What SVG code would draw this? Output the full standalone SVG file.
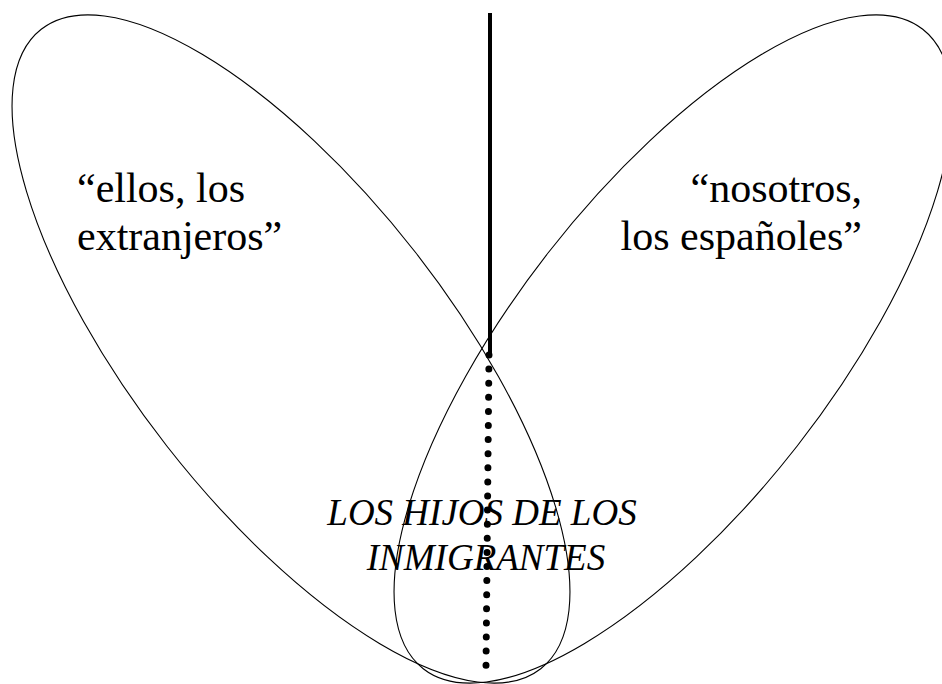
<svg xmlns="http://www.w3.org/2000/svg" width="942" height="684" viewBox="0 0 942 684">
<style>
.el{fill:none;stroke:#000;stroke-width:1.1}
.t{font-family:"Liberation Serif","Times New Roman",serif;fill:#000}
.big{font-size:42px}
.it{font-size:37px;font-style:italic}
</style>
<rect width="942" height="684" fill="#fff"/>
<g id="ellos">
<ellipse class="el" cx="291" cy="349" rx="405.7" ry="157.6" transform="rotate(52 291 349)"/>
<text class="t big" x="77" y="202">“ellos, los</text>
<text class="t big" x="77" y="250">extranjeros”</text>
</g>
<g id="nosotros">
<ellipse class="el" cx="673" cy="349" rx="405.7" ry="157.6" transform="rotate(-52 673 349)"/>
<text class="t big" x="862" y="202" text-anchor="end">“nosotros,</text>
<text class="t big" x="862" y="250" text-anchor="end">los españoles”</text>
</g>
<g id="connectors">
<line x1="490" y1="13" x2="490" y2="353" stroke="#000" stroke-width="4"/>
<line x1="489" y1="355" x2="486" y2="666" stroke="#000" stroke-width="7" stroke-linecap="round" stroke-dasharray="0 14.1"/>
</g>
<g id="hijos">
<text class="t it" x="482" y="525" text-anchor="middle">LOS HIJOS DE LOS</text>
<text class="t it" x="486" y="570" text-anchor="middle">INMIGRANTES</text>
</g>
</svg>
